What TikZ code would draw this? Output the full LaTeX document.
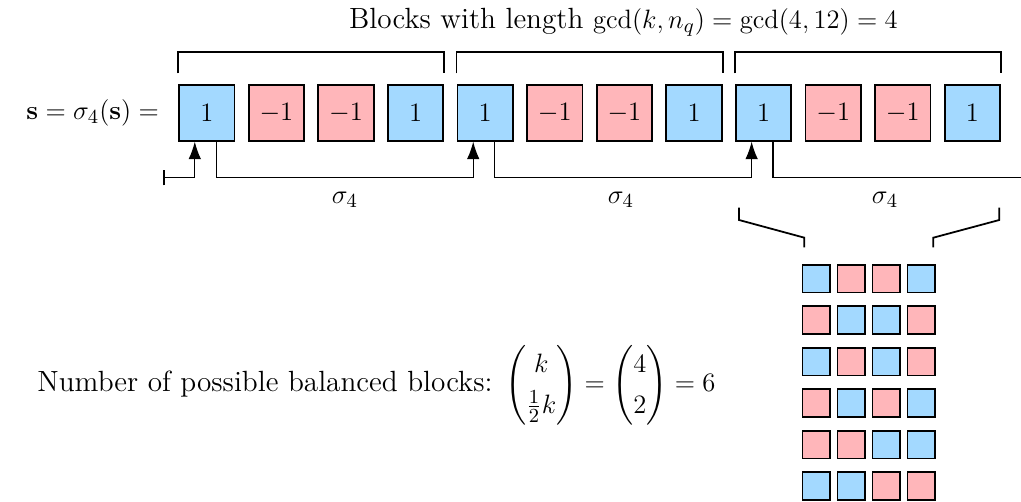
\documentclass[tikz,border=0pt]{standalone}
\usepackage{amsmath}
\usetikzlibrary{arrows.meta}
\definecolor{posblue}{RGB}{163,217,255}
\definecolor{negred}{RGB}{255,182,186}
\begin{document}
\begin{tikzpicture}[
    every node/.style={font=\fontsize{13.2}{16}\selectfont},
    cell/.style={draw, thick, minimum size=0.88cm, inner sep=0pt},
    mini/.style={draw, thick, minimum size=0.44cm, inner sep=0pt},
    brace/.style={thick},
    arr/.style={-{Latex[length=2.8mm,width=2mm]}, semithick}
]
  \useasboundingbox (0,0) rectangle (16.206,7.968);

  % Sequence s
  \node[anchor=east] (lhs) at (2.647,6.175) {$\mathbf{s} = \sigma_4(\mathbf{s}) =$};
  \foreach \i/\v in {1/1,2/-1,3/-1,4/1,5/1,6/-1,7/-1,8/1,9/1,10/-1,11/-1,12/1} {
    \ifnum\v>0
      \node[cell, fill=posblue] (b\i) at ({3.282+1.1048*(\i-1)},6.175) {$1$};
    \else
      \node[cell, fill=negred] (b\i) at ({3.282+1.1048*(\i-1)},6.175) {$-1$};
    \fi
    \coordinate (in\i) at ([xshift=-0.19cm]b\i.south);
    \coordinate (out\i) at ([xshift=0.15cm]b\i.south);
  }

  % Blocks of length 4
  \node (title) at (9.897,7.62) {Blocks with length $\gcd(k, n_q) = \gcd(4, 12) = 4$};
  \foreach \a/\b in {1/4,5/8,9/12} {
    \draw[brace] ([yshift=0.175cm]b\a.north west) -- ++(0,0.34)
      -| ([yshift=0.175cm]b\b.north east);
  }

  % Shift sigma_4
  \coordinate (start) at (2.592,5.146);
  \coordinate (rend) at (16.25,5.146);
  \draw[semithick, {Bar[width=2.4mm]}-{Latex[length=2.8mm,width=2mm]}] (start) -| (in1);
  \draw[arr] (out1) |- (start -| in5) -- (in5);
  \draw[arr] (out5) |- (start -| in9) -- (in9);
  \draw[semithick] (out9) |- (rend);
  \node (s1) at (5.476,4.794) {$\sigma_4$};
  \node (s2) at (9.857,4.794) {$\sigma_4$};
  \node (s3) at (14.048,4.794) {$\sigma_4$};

  % Balanced blocks
  \draw[brace] (11.730,4.671) -- (11.730,4.476) -- (12.767,4.195) -- (12.767,4.043);
  \draw[brace] (15.862,4.671) -- (15.862,4.476) -- (14.814,4.195) -- (14.814,4.043);
  \foreach \row [count=\r from 0] in {{1,0,0,1},{0,1,1,0},{1,0,1,0},{0,1,0,1},{0,0,1,1},{1,1,0,0}} {
    \foreach \v [count=\c from 0] in \row {
      \ifnum\v=1
        \node[mini, fill=posblue] (m\r\c) at ({12.957+0.5556*\c},{3.544-0.6587*\r}) {};
      \else
        \node[mini, fill=negred] (m\r\c) at ({12.957+0.5556*\c},{3.544-0.6587*\r}) {};
      \fi
    }
  }
  \node[anchor=west] (count) at (0.469,1.857)
    {\renewcommand{\arraystretch}{1.15}%
     Number of possible balanced blocks: $\begin{pmatrix} k \\ \frac{1}{2}k \end{pmatrix}
     = \begin{pmatrix} 4 \\ 2 \end{pmatrix} = 6$};
\end{tikzpicture}
\end{document}
